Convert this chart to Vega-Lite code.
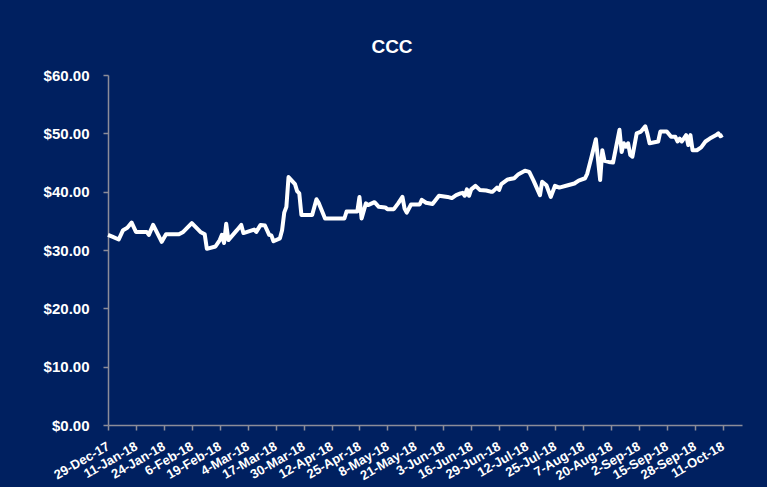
{
  "$schema": "https://vega.github.io/schema/vega-lite/v6.json",
  "width": 634,
  "height": 350,
  "autosize": {"type": "none"},
  "padding": {"left": 108, "top": 75, "right": 25, "bottom": 62},
  "background": "#002060",
  "title": {
    "text": "CCC",
    "color": "white",
    "font": "Liberation Sans",
    "fontSize": 19,
    "fontWeight": "bold",
    "anchor": "middle",
    "dx": -33,
    "offset": 11
  },
  "config": {
    "view": {"stroke": null},
    "axis": {
      "labelColor": "white",
      "labelFont": "Liberation Sans",
      "labelFontWeight": "bold",
      "domainColor": "#8c8c99",
      "tickColor": "#8c8c99",
      "domainWidth": 1.5,
      "tickWidth": 1.5,
      "tickSize": 5,
      "grid": false,
      "title": null
    }
  },
  "data": {
    "values": [
      {"date": "2017-12-29", "price": 32.6},
      {"date": "2017-12-31", "price": 32.3},
      {"date": "2018-01-03", "price": 31.8},
      {"date": "2018-01-05", "price": 33.4},
      {"date": "2018-01-07", "price": 33.8},
      {"date": "2018-01-09", "price": 34.7},
      {"date": "2018-01-11", "price": 33.1},
      {"date": "2018-01-16", "price": 33.1},
      {"date": "2018-01-17", "price": 32.6},
      {"date": "2018-01-19", "price": 34.3},
      {"date": "2018-01-23", "price": 31.4},
      {"date": "2018-01-25", "price": 32.7},
      {"date": "2018-01-31", "price": 32.7},
      {"date": "2018-02-02", "price": 33.1},
      {"date": "2018-02-06", "price": 34.6},
      {"date": "2018-02-10", "price": 33.1},
      {"date": "2018-02-12", "price": 32.7},
      {"date": "2018-02-13", "price": 30.2},
      {"date": "2018-02-17", "price": 30.6},
      {"date": "2018-02-19", "price": 31.7},
      {"date": "2018-02-20", "price": 32.6},
      {"date": "2018-02-21", "price": 31.2},
      {"date": "2018-02-22", "price": 34.5},
      {"date": "2018-02-23", "price": 31.7},
      {"date": "2018-02-27", "price": 33.4},
      {"date": "2018-03-01", "price": 34.3},
      {"date": "2018-03-02", "price": 32.9},
      {"date": "2018-03-07", "price": 33.5},
      {"date": "2018-03-08", "price": 33.1},
      {"date": "2018-03-10", "price": 34.3},
      {"date": "2018-03-12", "price": 34.2},
      {"date": "2018-03-14", "price": 32.6},
      {"date": "2018-03-15", "price": 32.5},
      {"date": "2018-03-16", "price": 31.5},
      {"date": "2018-03-19", "price": 32.0},
      {"date": "2018-03-20", "price": 33.4},
      {"date": "2018-03-21", "price": 36.4},
      {"date": "2018-03-22", "price": 37.4},
      {"date": "2018-03-23", "price": 42.5},
      {"date": "2018-03-26", "price": 41.3},
      {"date": "2018-03-27", "price": 40.1},
      {"date": "2018-03-28", "price": 39.7},
      {"date": "2018-03-29", "price": 36.0},
      {"date": "2018-04-03", "price": 36.0},
      {"date": "2018-04-05", "price": 38.7},
      {"date": "2018-04-06", "price": 38.1},
      {"date": "2018-04-09", "price": 35.4},
      {"date": "2018-04-18", "price": 35.4},
      {"date": "2018-04-19", "price": 36.6},
      {"date": "2018-04-24", "price": 36.6},
      {"date": "2018-04-25", "price": 39.1},
      {"date": "2018-04-26", "price": 35.4},
      {"date": "2018-04-28", "price": 38.0},
      {"date": "2018-04-29", "price": 37.7},
      {"date": "2018-05-02", "price": 38.2},
      {"date": "2018-05-04", "price": 37.4},
      {"date": "2018-05-07", "price": 37.3},
      {"date": "2018-05-08", "price": 37.0},
      {"date": "2018-05-11", "price": 37.0},
      {"date": "2018-05-13", "price": 38.0},
      {"date": "2018-05-15", "price": 39.1},
      {"date": "2018-05-16", "price": 37.1},
      {"date": "2018-05-17", "price": 36.4},
      {"date": "2018-05-19", "price": 37.8},
      {"date": "2018-05-23", "price": 37.8},
      {"date": "2018-05-24", "price": 38.6},
      {"date": "2018-05-26", "price": 38.1},
      {"date": "2018-05-29", "price": 37.9},
      {"date": "2018-06-01", "price": 39.3},
      {"date": "2018-06-05", "price": 39.1},
      {"date": "2018-06-07", "price": 38.9},
      {"date": "2018-06-09", "price": 39.4},
      {"date": "2018-06-11", "price": 39.7},
      {"date": "2018-06-12", "price": 39.8},
      {"date": "2018-06-13", "price": 39.3},
      {"date": "2018-06-14", "price": 40.4},
      {"date": "2018-06-15", "price": 39.3},
      {"date": "2018-06-16", "price": 40.4},
      {"date": "2018-06-18", "price": 41.0},
      {"date": "2018-06-20", "price": 40.3},
      {"date": "2018-06-23", "price": 40.2},
      {"date": "2018-06-25", "price": 40.0},
      {"date": "2018-06-26", "price": 40.0},
      {"date": "2018-06-28", "price": 40.7},
      {"date": "2018-06-29", "price": 40.3},
      {"date": "2018-06-30", "price": 41.3},
      {"date": "2018-07-03", "price": 42.1},
      {"date": "2018-07-06", "price": 42.3},
      {"date": "2018-07-08", "price": 43.0},
      {"date": "2018-07-11", "price": 43.6},
      {"date": "2018-07-13", "price": 43.4},
      {"date": "2018-07-15", "price": 41.9},
      {"date": "2018-07-18", "price": 39.4},
      {"date": "2018-07-19", "price": 41.7},
      {"date": "2018-07-21", "price": 41.1},
      {"date": "2018-07-23", "price": 39.1},
      {"date": "2018-07-25", "price": 41.0},
      {"date": "2018-07-27", "price": 40.7},
      {"date": "2018-07-31", "price": 41.1},
      {"date": "2018-08-03", "price": 41.4},
      {"date": "2018-08-05", "price": 41.9},
      {"date": "2018-08-08", "price": 42.3},
      {"date": "2018-08-09", "price": 43.1},
      {"date": "2018-08-11", "price": 46.0},
      {"date": "2018-08-13", "price": 49.0},
      {"date": "2018-08-15", "price": 42.0},
      {"date": "2018-08-16", "price": 47.1},
      {"date": "2018-08-17", "price": 45.3},
      {"date": "2018-08-19", "price": 45.1},
      {"date": "2018-08-21", "price": 45.0},
      {"date": "2018-08-24", "price": 50.6},
      {"date": "2018-08-25", "price": 46.8},
      {"date": "2018-08-26", "price": 48.3},
      {"date": "2018-08-27", "price": 47.7},
      {"date": "2018-08-28", "price": 48.3},
      {"date": "2018-08-29", "price": 46.3},
      {"date": "2018-08-30", "price": 46.0},
      {"date": "2018-09-01", "price": 50.0},
      {"date": "2018-09-03", "price": 50.3},
      {"date": "2018-09-05", "price": 51.2},
      {"date": "2018-09-06", "price": 49.9},
      {"date": "2018-09-07", "price": 48.3},
      {"date": "2018-09-11", "price": 48.6},
      {"date": "2018-09-12", "price": 50.3},
      {"date": "2018-09-15", "price": 50.3},
      {"date": "2018-09-17", "price": 49.4},
      {"date": "2018-09-19", "price": 49.4},
      {"date": "2018-09-20", "price": 48.6},
      {"date": "2018-09-21", "price": 49.1},
      {"date": "2018-09-22", "price": 48.6},
      {"date": "2018-09-24", "price": 49.7},
      {"date": "2018-09-25", "price": 48.0},
      {"date": "2018-09-26", "price": 49.7},
      {"date": "2018-09-27", "price": 47.1},
      {"date": "2018-09-29", "price": 47.1},
      {"date": "2018-10-01", "price": 47.6},
      {"date": "2018-10-03", "price": 48.6},
      {"date": "2018-10-05", "price": 49.1},
      {"date": "2018-10-08", "price": 49.7},
      {"date": "2018-10-09", "price": 50.0},
      {"date": "2018-10-10", "price": 49.5},
      {"date": "2018-10-11", "price": 49.7}
    ]
  },
  "mark": {"type": "line", "color": "white", "strokeWidth": 4, "strokeJoin": "round", "clip": false},
  "encoding": {
    "x": {
      "field": "date",
      "type": "temporal",
      "scale": {
        "type": "utc",
        "nice": false,
        "domain": [
          {"year": 2017, "month": 12, "date": 29, "utc": true},
          {"year": 2018, "month": 10, "date": 20, "utc": true}
        ]
      },
      "axis": {
        "values": [
          {"year": 2017, "month": 12, "date": 29, "utc": true},
          {"year": 2018, "month": 1, "date": 11, "utc": true},
          {"year": 2018, "month": 1, "date": 24, "utc": true},
          {"year": 2018, "month": 2, "date": 6, "utc": true},
          {"year": 2018, "month": 2, "date": 19, "utc": true},
          {"year": 2018, "month": 3, "date": 4, "utc": true},
          {"year": 2018, "month": 3, "date": 17, "utc": true},
          {"year": 2018, "month": 3, "date": 30, "utc": true},
          {"year": 2018, "month": 4, "date": 12, "utc": true},
          {"year": 2018, "month": 4, "date": 25, "utc": true},
          {"year": 2018, "month": 5, "date": 8, "utc": true},
          {"year": 2018, "month": 5, "date": 21, "utc": true},
          {"year": 2018, "month": 6, "date": 3, "utc": true},
          {"year": 2018, "month": 6, "date": 16, "utc": true},
          {"year": 2018, "month": 6, "date": 29, "utc": true},
          {"year": 2018, "month": 7, "date": 12, "utc": true},
          {"year": 2018, "month": 7, "date": 25, "utc": true},
          {"year": 2018, "month": 8, "date": 7, "utc": true},
          {"year": 2018, "month": 8, "date": 20, "utc": true},
          {"year": 2018, "month": 9, "date": 2, "utc": true},
          {"year": 2018, "month": 9, "date": 15, "utc": true},
          {"year": 2018, "month": 9, "date": 28, "utc": true},
          {"year": 2018, "month": 10, "date": 11, "utc": true}
        ],
        "format": "%-d-%b-%y",
        "labelAngle": -30,
        "labelAlign": "right",
        "labelBaseline": "middle",
        "labelFontSize": 13,
        "labelPadding": 15,
        "labelOverlap": false,
        "labelBound": false,
        "labelFlush": false
      }
    },
    "y": {
      "field": "price",
      "type": "quantitative",
      "scale": {"domain": [0, 60], "nice": false, "zero": true},
      "axis": {
        "values": [0, 10, 20, 30, 40, 50, 60],
        "format": "$,.2f",
        "labelFontSize": 15,
        "labelPadding": 14
      }
    }
  }
}
